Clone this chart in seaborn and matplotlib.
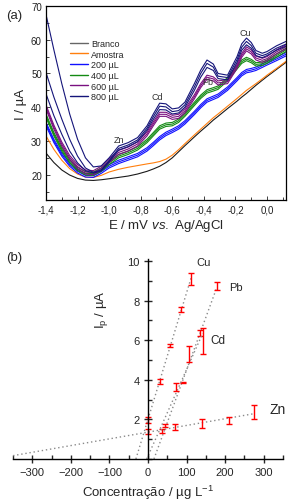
import numpy as np
import matplotlib
matplotlib.use("Agg")
import matplotlib.pyplot as plt
import seaborn as sns
from matplotlib.lines import Line2D
from matplotlib.ticker import MultipleLocator, FuncFormatter

sns.set_theme(style="ticks")
plt.rcParams['font.family'] = ['Liberation Sans', 'DejaVu Sans']
plt.rcParams['mathtext.fontset'] = 'custom'
plt.rcParams['mathtext.rm'] = 'Liberation Sans'
plt.rcParams['mathtext.it'] = 'Liberation Sans:italic'

# ---- panel (a): voltammograms, potential (V) vs current (uA)
E = [-1.40, -1.35, -1.30, -1.25, -1.20, -1.15, -1.10, -1.05, -1.00, -0.94,
     -0.88, -0.82, -0.76, -0.72, -0.68, -0.64, -0.60, -0.56, -0.52, -0.46,
     -0.42, -0.38, -0.34, -0.31, -0.25, -0.19, -0.16, -0.13, -0.10, -0.07,
     -0.03, 0.00, 0.06, 0.12]

branco = [26.4, 23.6, 21.4, 19.9, 18.9, 18.4, 18.3, 18.5, 18.8, 19.2,
          19.6, 20.2, 21.0, 21.7, 22.5, 23.6, 25.0, 26.8, 28.6, 31.2,
          32.9, 34.5, 36.2, 37.3, 39.6, 41.8, 43.0, 44.1, 45.3, 46.5,
          48.0, 49.1, 51.2, 53.3]
amostra = [31.5, 27.5, 24.3, 21.8, 20.2, 19.3, 19.2, 19.8, 20.8, 21.6,
           22.2, 22.7, 23.2, 23.5, 23.9, 24.6, 25.8, 27.4, 29.2, 31.8,
           33.5, 35.2, 36.9, 38.0, 40.3, 42.6, 43.8, 45.0, 46.0, 47.0,
           48.4, 49.5, 51.5, 53.6]
ul200 = [34.5, 29.5, 25.5, 22.5, 20.5, 19.3, 19.2, 20.4, 22.0, 23.3,
         24.3, 25.3, 27.0, 28.6, 30.3, 31.6, 32.5, 33.5, 35.0, 37.8,
         39.8, 41.5, 42.3, 42.9, 45.0, 47.8, 49.3, 50.2, 50.5, 50.9,
         51.8, 52.5, 53.8, 55.2]
ul400 = [37.0, 31.5, 27.0, 23.5, 21.2, 19.9, 19.8, 21.0, 23.0, 25.0,
         26.0, 27.3, 29.5, 31.5, 33.5, 34.3, 34.5, 35.5, 37.3, 40.5,
         42.6, 44.2, 44.8, 45.3, 47.8, 51.3, 53.0, 53.8, 53.2, 52.2,
         52.4, 53.0, 54.8, 56.5]
ul600 = [39.5, 33.5, 28.5, 24.5, 21.8, 20.2, 20.0, 21.3, 23.6, 26.0,
         27.0, 28.5, 31.5, 34.5, 37.3, 37.3, 36.4, 36.7, 38.3, 42.5,
         45.8, 48.3, 47.8, 46.6, 47.0, 51.5, 54.8, 56.7, 55.8, 54.0,
         53.3, 53.8, 55.8, 57.3]
ul800_a = [67.5, 57.0, 47.0, 38.0, 30.5, 25.0, 22.3, 22.6, 25.0, 28.5,
           29.5, 31.0, 34.5, 38.0, 41.2, 41.0, 39.5, 39.8, 41.5, 47.0,
           51.0, 54.0, 52.8, 50.0, 49.5, 55.0, 58.8, 60.5, 59.2, 56.8,
           56.0, 56.5, 58.2, 59.5]
ul800_b = [50.3, 43.0, 36.5, 30.5, 25.5, 22.0, 20.7, 21.4, 24.2, 27.8,
           28.8, 30.3, 33.8, 37.2, 40.3, 40.1, 38.7, 39.0, 40.7, 46.0,
           50.0, 53.0, 51.9, 49.2, 48.8, 54.1, 57.8, 59.5, 58.3, 56.0,
           55.3, 55.8, 57.5, 58.7]
ul800_c = [44.0, 37.5, 32.0, 27.0, 23.5, 21.2, 20.5, 21.1, 23.8, 27.3,
           28.3, 29.8, 33.2, 36.4, 39.3, 39.2, 38.0, 38.3, 40.0, 45.0,
           48.9, 51.8, 50.9, 48.5, 48.1, 53.3, 56.9, 58.5, 57.5, 55.3,
           54.7, 55.3, 56.9, 58.1]
# small spread of the replicate scans inside each bundle (uA)
rep_200 = [0.0, 0.5, 1.0]
rep_400 = [0.0, 0.5, 1.0]
rep_600 = [0.0, 0.6, 1.2]

peak_names = ['Zn', 'Cd', 'Pb', 'Cu']
peak_E = [-0.94, -0.695, -0.378, -0.137]
peak_I = [30.5, 43.3, 47.7, 62.3]

# ---- panel (b): standard additions
cu_x = [0, 30, 58, 86, 112]
cu_y = [1.97, 3.92, 5.75, 7.55, 9.10]
cu_err = [0.15, 0.12, 0.08, 0.11, 0.31]
pb_x = [45, 92, 135, 179]
pb_y = [1.69, 3.88, 6.37, 8.75]
pb_err = [0.06, 0.02, 0.17, 0.20]
cd_x = [36, 73, 107.5, 142]
cd_y = [1.39, 3.62, 5.30, 5.95]
cd_err = [0.10, 0.20, 0.42, 0.66]
zn_x = [0, 70.6, 139, 209, 275]
zn_y = [1.40, 1.60, 1.78, 1.96, 2.39]
zn_err = [0.12, 0.15, 0.22, 0.17, 0.36]

fig = plt.figure(figsize=(2.9, 5.02), dpi=100)
ax1 = fig.add_axes([0.1586, 0.5996, 0.8274, 0.3864])
ax2 = fig.add_axes([0.0448, 0.0837, 0.931, 0.3983])

comma = FuncFormatter(lambda v, p: f'{v:.1f}'.replace('.', ','))

def draw(y, color, lw=0.8, off=0.0):
    sns.lineplot(x=E, y=np.array(y) + off, ax=ax1, color=color, lw=lw,
                 sort=False, estimator=None)

draw(branco, '#1a1a1a')
draw(amostra, '#ff7f0e')
for o in rep_200:
    draw(ul200, '#1010ff', off=o)
for o in rep_400:
    draw(ul400, '#138a13', off=o)
for o in rep_600:
    draw(ul600, '#7a1080', off=o)
for c in [ul800_a, ul800_b, ul800_c]:
    draw(c, '#15157a')

for n, xe, yi in zip(peak_names, peak_E, peak_I):
    ax1.text(xe, yi, n, fontsize=6.5, color='#333333', ha='center', va='center')

ax1.set_xlim(-1.4, 0.12)
ax1.set_ylim(12.5, 70)
ax1.xaxis.set_major_locator(MultipleLocator(0.2))
ax1.xaxis.set_minor_locator(MultipleLocator(0.1))
ax1.yaxis.set_major_locator(MultipleLocator(10))
ax1.yaxis.set_minor_locator(MultipleLocator(5))
ax1.xaxis.set_major_formatter(comma)
ax1.tick_params(which='both', direction='in', labelsize=7, colors='#222222',
                length=3, width=0.6, pad=3)
ax1.tick_params(which='minor', length=2)
for s in ax1.spines.values():
    s.set_linewidth(0.9)
    s.set_color('black')
ax1.set_xlabel(r'E / mV $\it{vs.}$ Ag/AgCl', fontsize=9.5, labelpad=2)
ax1.set_ylabel('I / µA', fontsize=9.5, labelpad=3)

handles = [Line2D([0], [0], color=c, lw=1.0, label=l) for c, l in
           [('#666666', 'Branco'), ('#ff7f0e', 'Amostra'), ('#1010ff', '200 µL'),
            ('#138a13', '400 µL'), ('#7a1080', '600 µL'), ('#15157a', '800 µL')]]
ax1.legend(handles=handles, loc='upper left', bbox_to_anchor=(0.1, 0.83),
           frameon=False, fontsize=6.5, handlelength=2.0, handletextpad=0.3,
           labelspacing=0.18, borderpad=0, borderaxespad=0)

# panel (b)
series = [(cu_x, cu_y, cu_err), (pb_x, pb_y, pb_err),
          (cd_x, cd_y, cd_err), (zn_x, zn_y, zn_err)]
for xs, ys, es in series:
    m, b = np.polyfit(xs, ys, 1)
    x0 = max(-350, -b / m)
    xl = np.array([x0, xs[-1]])
    sns.lineplot(x=xl, y=m * xl + b, ax=ax2, color='#8a8a8a', lw=1.0,
                 linestyle=(0, (1, 2)), sort=False, estimator=None)
    ax2.errorbar(xs, ys, yerr=es, fmt='none', ecolor='red', elinewidth=1.0,
                 capsize=2.5, capthick=1.0)

ax2.text(144, 9.97, 'Cu', fontsize=8, ha='center', va='center')
ax2.text(227, 8.7, 'Pb', fontsize=8, ha='center', va='center')
ax2.text(180, 6.0, 'Cd', fontsize=8.5, ha='center', va='center')
ax2.text(335, 2.55, 'Zn', fontsize=10, ha='center', va='center', clip_on=False)

ax2.set_xlim(-350, 350)
ax2.set_ylim(0, 10.1)
ax2.spines['left'].set_position(('data', 0))
ax2.spines['bottom'].set_position(('data', 0))
ax2.spines['top'].set_visible(False)
ax2.spines['right'].set_visible(False)
for s in ['left', 'bottom']:
    ax2.spines[s].set_linewidth(1.0)
    ax2.spines[s].set_color('black')
ax2.set_xticks([-300, -200, -100, 0, 100, 200, 300])
ax2.set_yticks([2, 4, 6, 8, 10])
ax2.xaxis.set_minor_locator(MultipleLocator(50))
ax2.yaxis.set_minor_locator(MultipleLocator(1))
ax2.tick_params(which='major', direction='inout', length=6, width=1.0,
                labelsize=8, pad=3)
ax2.tick_params(which='minor', direction='in', length=3, width=1.0)
ax2.set_xlabel('Concentração / µg L$^{-1}$', fontsize=9.5, labelpad=4)
ax2.set_ylabel(r'I$_\mathregular{p}$ / µA', fontsize=9.5)
ax2.yaxis.set_label_coords(0.36, 0.75)

fig.text(0.02, 0.968, '(a)', fontsize=9.5, va='center')
fig.text(0.02, 0.486, '(b)', fontsize=9.5, va='center')

fig.savefig('out.png', dpi=100)
